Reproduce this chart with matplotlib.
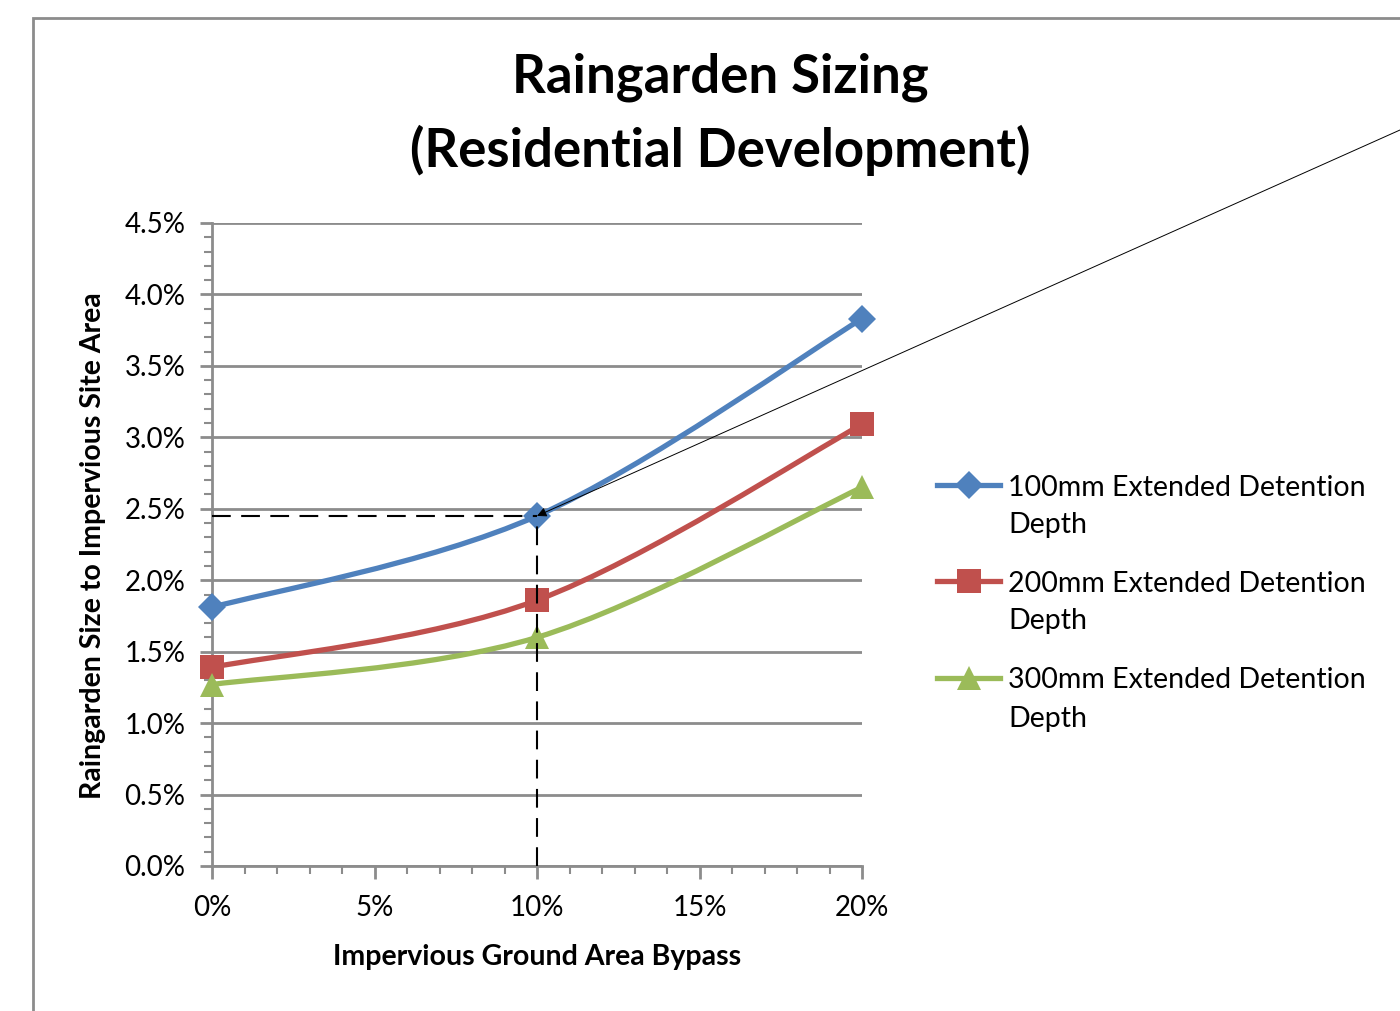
import matplotlib
matplotlib.use("Agg")
import matplotlib.pyplot as plt
from matplotlib.path import Path
from matplotlib.patches import PathPatch, Rectangle
from matplotlib.lines import Line2D
from matplotlib.ticker import MultipleLocator, FuncFormatter
import numpy as np

bypass = [0, 10, 20]
series_names = [("100mm Extended Detention", "Depth"),
                ("200mm Extended Detention", "Depth"),
                ("300mm Extended Detention", "Depth")]
depth_100 = [1.81, 2.45, 3.83]
depth_200 = [1.39, 1.86, 3.09]
depth_300 = [1.27, 1.60, 2.65]
colors = ["#4F81BD", "#C0504D", "#9BBB59"]
markers = ["D", "s", "^"]
msizes = [14, 17, 17]
title = "Raingarden Sizing\n(Residential Development)"
xlabel = "Impervious Ground Area Bypass"
ylabel = "Raingarden Size to Impervious Site Area"

plt.rcParams['font.family'] = ['Lato', 'DejaVu Sans']

W, H = 1400, 1011
fig = plt.figure(figsize=(W / 100, H / 100), dpi=100)
ax = fig.add_axes([212/W, 1-866/H, (862-212)/W, (866-223)/H])

# chart border
fig.add_artist(Rectangle((33/W, -0.05), 1.2, 1-18/H+0.05, transform=fig.transFigure,
                         fill=False, edgecolor="#8c8c8c", lw=2, zorder=0))


def smooth_path(xs, ys):
    pts = np.column_stack([xs, ys]).astype(float)
    n = len(pts)
    verts = [pts[0]]
    codes = [Path.MOVETO]
    for i in range(n - 1):
        p0 = pts[i - 1] if i > 0 else pts[i]
        p1 = pts[i]
        p2 = pts[i + 1]
        p3 = pts[i + 2] if i + 2 < n else pts[i + 1]
        c1 = p1 + (p2 - p0) / 6.0
        c2 = p2 - (p3 - p1) / 6.0
        verts += [c1, c2, p2]
        codes += [Path.CURVE4] * 3
    return Path(verts, codes)


for vals, c, m, ms in zip([depth_100, depth_200, depth_300], colors, markers, msizes):
    ax.add_patch(PathPatch(smooth_path(bypass, vals), fill=False, edgecolor=c, lw=3.8,
                           zorder=3, capstyle='round', joinstyle='round'))
    ax.plot(bypass, vals, linestyle='none', marker=m, color=c, markersize=ms, zorder=4,
            markeredgewidth=0, clip_on=False)

# dashed guides at 10% bypass
ax.plot([0, bypass[1]], [depth_100[1], depth_100[1]], color="black", lw=1.5,
        dashes=(9, 5), zorder=5)
ax.plot([bypass[1], bypass[1]], [0, depth_100[1]], color="black", lw=1.5,
        dashes=(9, 5), zorder=5)

# annotation arrow line
ax.annotate("", xy=(bypass[1], depth_100[1]), xytext=(1.0, 1 - 130/H),
            textcoords='figure fraction', xycoords='data',
            arrowprops=dict(arrowstyle='-|>', color='black', lw=0.7, mutation_scale=14,
                            shrinkA=0, shrinkB=0),
            annotation_clip=False, zorder=6)

ax.set_xlim(0, 20)
ax.set_ylim(0, 4.5)
ax.xaxis.set_major_locator(MultipleLocator(5))
ax.xaxis.set_minor_locator(MultipleLocator(1))
ax.yaxis.set_major_locator(MultipleLocator(0.5))
ax.yaxis.set_minor_locator(MultipleLocator(0.1))
ax.xaxis.set_major_formatter(FuncFormatter(lambda v, p: f"{v:.0f}%"))
ax.yaxis.set_major_formatter(FuncFormatter(lambda v, p: f"{v:.1f}%"))
ax.grid(axis='y', which='major', color="#8c8c8c", lw=2)
ax.set_axisbelow(True)
for s in ['top', 'right']:
    ax.spines[s].set_visible(False)
for s in ['left', 'bottom']:
    ax.spines[s].set_color("#8c8c8c")
    ax.spines[s].set_linewidth(2)
ax.tick_params(axis='both', which='major', colors="#8c8c8c", width=2, length=9,
               labelcolor="black", labelsize=20)
ax.tick_params(axis='both', which='minor', colors="#8c8c8c", width=1.5, length=6)
ax.tick_params(axis='x', which='major', pad=12)
ax.tick_params(axis='y', which='major', pad=10)

ax.set_xlabel(xlabel, fontsize=20.5, fontweight='bold')
ax.set_ylabel(ylabel, fontsize=20.5, fontweight='bold')
ax.xaxis.set_label_coords(0.5, (866 - 957) / 643)
ax.xaxis.label.set_va('center')
ax.yaxis.set_label_coords((93 - 212) / 650, 0.498)
ax.yaxis.label.set_va('center')

fig.text(720/W, 1 - 114/H, title, ha='center', va='center', fontsize=38,
         fontweight='bold', linespacing=1.55)

# legend (Excel style: handle aligned with the first line of each label)
legend_y = [485, 581, 678]
for (l1, l2), c, m, ms, yy in zip(series_names, colors, markers, msizes, legend_y):
    fy = 1 - yy / H
    fig.add_artist(Line2D([937/W, 1000/W], [fy, fy], transform=fig.transFigure,
                          color=c, lw=3.8))
    fig.add_artist(Line2D([969/W], [fy], transform=fig.transFigure, color=c,
                          marker=m, markersize=ms, markeredgewidth=0, linestyle='none'))
    fig.text(1008/W, fy, l1, ha='left', va='center_baseline', fontsize=20.5)
    fig.text(1008/W, 1 - (yy + 38) / H, l2, ha='left', va='center_baseline', fontsize=20.5)

fig.savefig("out.png", dpi=100)
